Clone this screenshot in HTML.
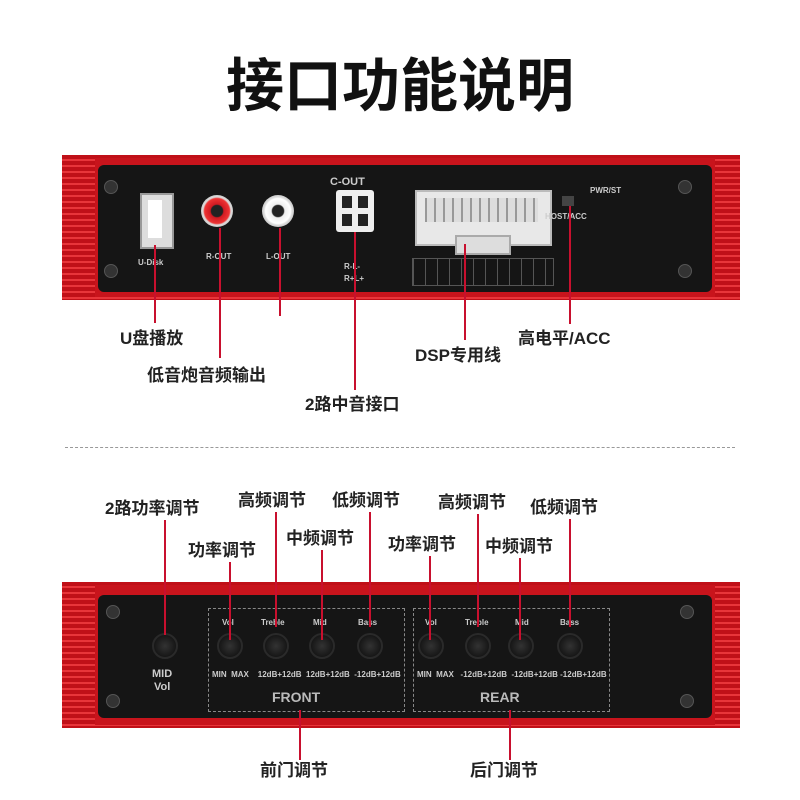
<!DOCTYPE html>
<html><head><meta charset="utf-8"><style>
body{margin:0;width:800px;height:800px;background:#fff;position:relative;overflow:hidden;font-family:"Liberation Sans","Noto Sans CJK SC",sans-serif}
.a{position:absolute}
.t{position:absolute;font-weight:bold;font-size:17px;color:#222;white-space:nowrap;line-height:1}
.l{position:absolute;width:2px;background:#c8102e;z-index:5}
.red{position:absolute;background:linear-gradient(#e0242c,#a80c14)}
.fin{background:repeating-linear-gradient(180deg,#c01018 0 4px,#e8353a 4px 6px)}
.blk{position:absolute;background:#151515;border-radius:6px}
.screw{position:absolute;width:12px;height:12px;border-radius:50%;background:#333;border:1px solid #555}
.knob{position:absolute;width:22px;height:22px;border-radius:50%;background:radial-gradient(#333,#0a0a0a);border:2px solid #2a2a2a}
.sm{position:absolute;color:#ccc;font-size:8px;font-weight:bold;white-space:nowrap}
</style></head><body>
<div class="a" style="left:0;width:800px;top:52px;text-align:center;font-size:58px;font-weight:bold;color:#111;line-height:1;font-family:'Noto Sans CJK SC',sans-serif">接口功能说明</div>

<!-- top device -->
<div class="red fin" style="left:62px;top:155px;width:678px;height:145px"></div>
<div class="red" style="left:95px;top:158px;width:620px;height:139px;background:#c8141c"></div>
<div class="blk" style="left:98px;top:165px;width:614px;height:127px"></div>
<div class="screw" style="left:104px;top:180px"></div><div class="screw" style="left:104px;top:264px"></div>
<div class="screw" style="left:678px;top:180px"></div><div class="screw" style="left:678px;top:264px"></div>
<div class="a" style="left:140px;top:193px;width:30px;height:52px;background:#ddd;border:2px solid #999"></div>
<div class="a" style="left:148px;top:200px;width:14px;height:38px;background:#fff"></div>
<div class="sm" style="left:138px;top:258px">U-Disk</div>
<div class="a" style="left:201px;top:195px;width:32px;height:32px;border-radius:50%;background:radial-gradient(#222 25%,#d01a22 30%,#e33 55%,#ddd 62%,#888 100%)"></div>
<div class="a" style="left:262px;top:195px;width:32px;height:32px;border-radius:50%;background:radial-gradient(#222 25%,#eee 30%,#fff 55%,#ddd 62%,#888 100%)"></div>
<div class="sm" style="left:206px;top:252px">R-OUT</div><div class="sm" style="left:266px;top:252px">L-OUT</div>
<div class="sm" style="left:330px;top:176px;font-size:11px">C-OUT</div>
<div class="a" style="left:336px;top:190px;width:38px;height:42px;background:#eee;border-radius:3px"></div>
<div class="a" style="left:342px;top:196px;width:10px;height:12px;background:#222"></div><div class="a" style="left:358px;top:196px;width:10px;height:12px;background:#222"></div>
<div class="a" style="left:342px;top:214px;width:10px;height:12px;background:#222"></div><div class="a" style="left:358px;top:214px;width:10px;height:12px;background:#222"></div>
<div class="sm" style="left:344px;top:262px">R-L-</div><div class="sm" style="left:344px;top:274px">R+L+</div>
<div class="a" style="left:415px;top:190px;width:133px;height:52px;background:#e8e8e8;border:2px solid #bbb"></div>
<div class="a" style="left:425px;top:198px;width:113px;height:24px;background:repeating-linear-gradient(90deg,#999 0 2px,#ddd 2px 9px)"></div>
<div class="a" style="left:455px;top:235px;width:52px;height:16px;background:#ddd;border:2px solid #aaa"></div>
<div class="a" style="left:412px;top:258px;width:140px;height:26px;border:1px solid #555;background:repeating-linear-gradient(90deg,#555 0 1px,transparent 1px 12px)"></div>
<div class="a" style="left:562px;top:196px;width:12px;height:10px;background:#444"></div>
<div class="sm" style="left:545px;top:212px">HOST/ACC</div><div class="sm" style="left:590px;top:186px">PWR/ST</div>

<div class="l" style="left:154px;top:245px;height:78px"></div><div class="t" style="left:120px;top:330px">U盘播放</div>
<div class="l" style="left:219px;top:228px;height:130px"></div><div class="t" style="left:147px;top:367px">低音炮音频输出</div>
<div class="l" style="left:279px;top:228px;height:88px"></div>
<div class="l" style="left:354px;top:232px;height:158px"></div><div class="t" style="left:305px;top:396px">2路中音接口</div>
<div class="l" style="left:464px;top:244px;height:96px"></div><div class="t" style="left:415px;top:347px">DSP专用线</div>
<div class="l" style="left:569px;top:206px;height:118px"></div><div class="t" style="left:518px;top:330px">高电平/ACC</div>

<div class="a" style="left:65px;top:447px;width:670px;border-top:1px dashed #999"></div>

<!-- bottom labels -->
<div class="t" style="left:105px;top:500px">2路功率调节</div><div class="l" style="left:164px;top:520px;height:115px"></div>
<div class="t" style="left:188px;top:542px">功率调节</div><div class="l" style="left:229px;top:562px;height:78px"></div>
<div class="t" style="left:238px;top:492px">高频调节</div><div class="l" style="left:275px;top:512px;height:115px"></div>
<div class="t" style="left:286px;top:530px">中频调节</div><div class="l" style="left:321px;top:550px;height:90px"></div>
<div class="t" style="left:332px;top:492px">低频调节</div><div class="l" style="left:369px;top:512px;height:115px"></div>
<div class="t" style="left:438px;top:494px">高频调节</div><div class="l" style="left:477px;top:514px;height:113px"></div>
<div class="t" style="left:388px;top:536px">功率调节</div><div class="l" style="left:429px;top:556px;height:84px"></div>
<div class="t" style="left:485px;top:538px">中频调节</div><div class="l" style="left:519px;top:558px;height:82px"></div>
<div class="t" style="left:530px;top:499px">低频调节</div><div class="l" style="left:569px;top:519px;height:108px"></div>

<!-- bottom device -->
<div class="red fin" style="left:62px;top:582px;width:678px;height:146px"></div>
<div class="red" style="left:95px;top:585px;width:620px;height:140px;background:#c8141c"></div>
<div class="blk" style="left:98px;top:595px;width:614px;height:123px"></div>
<div class="screw" style="left:106px;top:605px"></div><div class="screw" style="left:106px;top:694px"></div>
<div class="screw" style="left:680px;top:605px"></div><div class="screw" style="left:680px;top:694px"></div>
<div class="a" style="left:208px;top:608px;width:195px;height:102px;border:1px dashed #888"></div>
<div class="a" style="left:413px;top:608px;width:195px;height:102px;border:1px dashed #888"></div>
<div class="knob" style="left:152px;top:633px"></div>
<div class="sm" style="left:152px;top:668px;font-size:11px">MID</div><div class="sm" style="left:154px;top:681px;font-size:11px">Vol</div>
<div class="knob" style="left:217px;top:633px"></div><div class="knob" style="left:263px;top:633px"></div><div class="knob" style="left:309px;top:633px"></div><div class="knob" style="left:357px;top:633px"></div>
<div class="knob" style="left:418px;top:633px"></div><div class="knob" style="left:465px;top:633px"></div><div class="knob" style="left:508px;top:633px"></div><div class="knob" style="left:557px;top:633px"></div>
<div class="sm" style="left:222px;top:618px">Vol</div><div class="sm" style="left:261px;top:618px">Treble</div><div class="sm" style="left:313px;top:618px">Mid</div><div class="sm" style="left:358px;top:618px">Bass</div>
<div class="sm" style="left:425px;top:618px">Vol</div><div class="sm" style="left:465px;top:618px">Treble</div><div class="sm" style="left:515px;top:618px">Mid</div><div class="sm" style="left:560px;top:618px">Bass</div>
<div class="sm" style="left:212px;top:670px">MIN &nbsp;MAX &nbsp;&nbsp; 12dB+12dB &nbsp;12dB+12dB &nbsp;-12dB+12dB</div>
<div class="sm" style="left:417px;top:670px">MIN &nbsp;MAX &nbsp; -12dB+12dB &nbsp;-12dB+12dB -12dB+12dB</div>
<div class="sm" style="left:272px;top:689px;font-size:14px;color:#bbb">FRONT</div>
<div class="sm" style="left:480px;top:689px;font-size:14px;color:#bbb">REAR</div>

<div class="l" style="left:299px;top:710px;height:50px"></div><div class="t" style="left:260px;top:762px">前门调节</div>
<div class="l" style="left:509px;top:710px;height:50px"></div><div class="t" style="left:470px;top:762px">后门调节</div>
</body></html>
